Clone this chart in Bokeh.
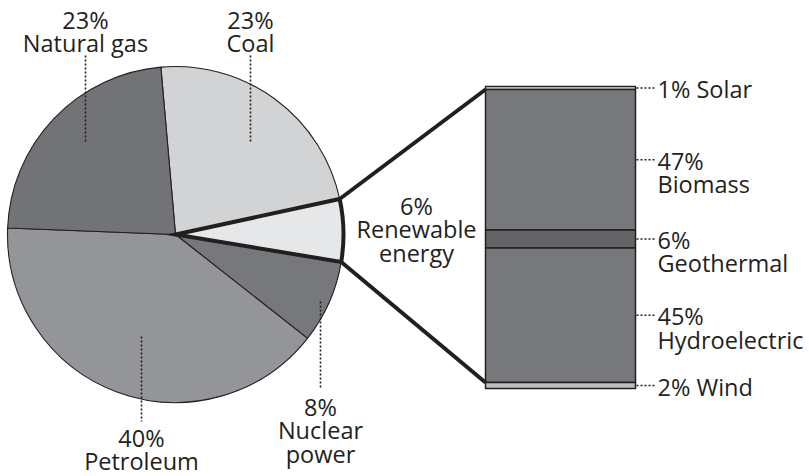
import math

from bokeh.core.properties import value
from bokeh.embed import file_html
from bokeh.models import Range1d
from bokeh.plotting import figure
from bokeh.resources import INLINE

# U.S. primary energy consumption by source (percent), clockwise from the top
sources = ["Coal", "Renewable energy", "Nuclear power", "Petroleum", "Natural gas"]
source_share = [23, 6, 8, 40, 23]
source_label_lines = [
    ["Coal"],
    ["Renewable", "energy"],
    ["Nuclear", "power"],
    ["Petroleum"],
    ["Natural gas"],
]

# Breakdown of the renewable slice (percent), listed top to bottom
renewables = ["Solar", "Biomass", "Geothermal", "Hydroelectric", "Wind"]
renewable_share = [1, 47, 6, 45, 2]
renewable_inline = [True, False, False, False, True]

# ---- styling / layout ----
W, H = 809, 476
INK = "#231f20"
FONT = "Open Sans"
FONT_SIZE = "23.5px"
LINE_GAP = 23.5
BASE_FIX = 7  # lift the alphabetic baseline to where it is wanted

pie_colors = ["#d1d3d4", "#e6e7e8", "#77787b", "#939598", "#727376"]
bar_colors = ["#e6e7e8", "#77787b", "#636466", "#77787b", "#bcbec0"]

CX, CY, R = 175, 242, 168
START_DEG = 95.0
RENEW_IDX = 1

# label anchors: (text centre x, first baseline y), leader (x, y0, y1)
label_pos = [(250, 450), (416, 264), (320, 63), (141, 32), (85, 450)]
leader_pos = [(250, 421, 333), None, (320, 175, 87), (141, 140, 55), (85, 421, 333)]

BAR_X0, BAR_X1 = 485, 635
BAR_BOTTOM_PX, BAR_TOP_PX = 88, 390  # frame pixels, measured from the bottom

p = figure(
    width=W, height=H,
    x_range=Range1d(0, W), y_range=Range1d(0, H),
    output_backend="svg", toolbar_location=None,
    min_border=0, outline_line_color=None,
    background_fill_color="white", border_fill_color="white",
)
p.axis.visible = False
p.grid.visible = False

# ---- pie ----
total = sum(source_share)
starts, ends = [], []
acc = 0.0
for v in source_share:
    starts.append(math.radians(START_DEG - acc / total * 360.0))
    acc += v
    ends.append(math.radians(START_DEG - acc / total * 360.0))

p.wedge(x=CX, y=CY, radius=R, start_angle=starts, end_angle=ends,
        direction="clock", fill_color=pie_colors, line_color=INK, line_width=1.1)

# heavy outline on the renewable slice
p.wedge(x=CX, y=CY, radius=R, start_angle=starts[RENEW_IDX], end_angle=ends[RENEW_IDX],
        direction="clock", fill_color=None, line_color=INK, line_width=4,
        line_join="miter")

# ---- renewable breakdown bar (own vertical scale) ----
bar_total = sum(renewable_share)
k = (BAR_TOP_PX - BAR_BOTTOM_PX) / bar_total
p.extra_y_ranges = {"renew": Range1d(-BAR_BOTTOM_PX / k, (H - BAR_BOTTOM_PX) / k)}

tops, bottoms = [], []
acc = 0.0
for v in reversed(renewable_share):
    bottoms.append(acc)
    acc += v
    tops.append(acc)
tops.reverse()
bottoms.reverse()

p.quad(left=BAR_X0, right=BAR_X1, bottom=bottoms, top=tops, y_range_name="renew",
       fill_color=bar_colors, line_color=INK, line_width=1.5)


def renew_to_main(v):
    rr = p.extra_y_ranges["renew"]
    return (v - rr.start) / (rr.end - rr.start) * H


# connectors from the renewable slice edges to the bar
a_top, a_bot = starts[RENEW_IDX], ends[RENEW_IDX]
top_link = renew_to_main(bar_total - renewable_share[0])
bot_link = renew_to_main(renewable_share[-1])
p.line([CX + R * math.cos(a_top), BAR_X0], [CY + R * math.sin(a_top), top_link],
       line_color=INK, line_width=4, line_cap="butt")
p.line([CX + R * math.cos(a_bot), BAR_X0], [CY + R * math.sin(a_bot), bot_link],
       line_color=INK, line_width=4, line_cap="butt")

# ---- pie labels ----
for i, (v, lines) in enumerate(zip(source_share, source_label_lines)):
    lx, ly = label_pos[i]
    all_lines = [f"{v}%"] + lines
    p.text(x=[lx] * len(all_lines),
           y=[ly + BASE_FIX - LINE_GAP * j for j in range(len(all_lines))],
           text=all_lines, text_align="center", text_baseline="alphabetic",
           text_font=value(FONT), text_font_size=FONT_SIZE, text_color=INK)
    if leader_pos[i] is not None:
        x0, y0, y1 = leader_pos[i]
        p.line([x0, x0], [y0, y1], line_color=INK, line_width=1.6, line_dash="2 2")

# ---- bar labels ----
mids = [(t + b) / 2 for t, b in zip(tops, bottoms)]
p.segment(x0=BAR_X1 + 1, x1=BAR_X1 + 20, y0=mids, y1=mids, y_range_name="renew",
          line_color=INK, line_width=1.6, line_dash="2 2")
for name, v, m, inline in zip(renewables, renewable_share, mids, renewable_inline):
    lines = [f"{v}% {name}"] if inline else [f"{v}%", name]
    p.text(x=[BAR_X1 + 22] * len(lines), y=[m] * len(lines), y_range_name="renew",
           y_offset=[8 - BASE_FIX + LINE_GAP * j for j in range(len(lines))],
           text=lines, text_align="left", text_baseline="alphabetic",
           text_font=value(FONT), text_font_size=FONT_SIZE, text_color=INK)

with open("out.html", "w") as f:
    f.write(file_html(p, INLINE))
